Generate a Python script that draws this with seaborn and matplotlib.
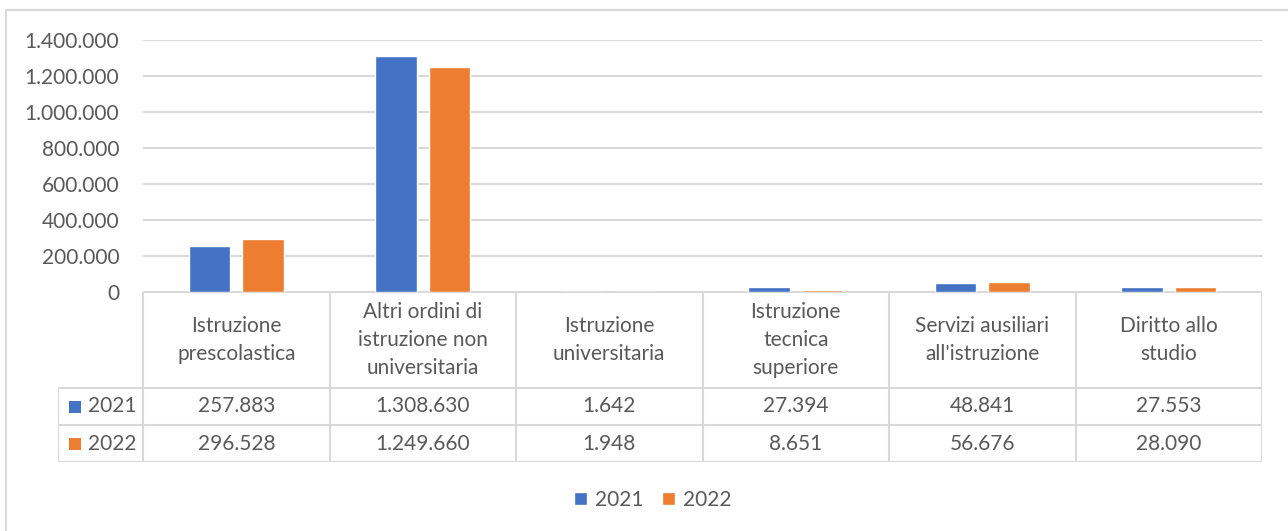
import numpy as np
import pandas as pd
import matplotlib
matplotlib.use('Agg')
import matplotlib.pyplot as plt
from matplotlib.patches import Rectangle
import seaborn as sns

# data
categories = ['Istruzione\nprescolastica', 'Altri ordini di\nistruzione non\nuniversitaria',
              'Istruzione\nuniversitaria', 'Istruzione\ntecnica\nsuperiore',
              "Servizi ausiliari\nall'istruzione", 'Diritto allo\nstudio']
years = ['2021', '2022']
values_2021 = [257883, 1308630, 1642, 27394, 48841, 27553]
values_2022 = [296528, 1249660, 1948, 8651, 56676, 28090]
y_ticks = [0, 200000, 400000, 600000, 800000, 1000000, 1200000, 1400000]

colors = ['#4472C4', '#ED7D31']
grid_col = '#D9D9D9'
text_col = '#595959'


def fmt(v):
    return f'{v:,}'.replace(',', '.')


df = pd.DataFrame({
    'category': categories * 2,
    'year': [years[0]] * len(categories) + [years[1]] * len(categories),
    'value': values_2021 + values_2022,
})

sns.set_style('white')
plt.rcParams['font.family'] = ['Lato', 'DejaVu Sans']
fs = 15

W, H = 1288, 531
fig = plt.figure(figsize=(W / 100, H / 100), dpi=100)

# outer chart border
fig.add_artist(Rectangle((6 / W, -0.1), 1.2, 1 - 10 / H + 0.1, transform=fig.transFigure,
                         fill=False, edgecolor=grid_col, lw=1.5))

px_l, px_r, px_top, px_base = 143, 1262, 40, 292
ax = fig.add_axes([px_l / W, 1 - px_base / H, (px_r - px_l) / W, (px_base - px_top) / H])
sns.barplot(data=df, x='category', y='value', hue='year', palette=colors,
            width=0.57, gap=0.22, ax=ax, saturation=1)
ax.set_xlim(-0.5, len(categories) - 0.5)
ax.set_ylim(0, 1400000)
ax.set_yticks(y_ticks)
ax.set_yticklabels([fmt(t) for t in y_ticks], color=text_col, fontsize=fs)
ax.tick_params(axis='y', length=0, pad=17)
ax.set_xticks([])
ax.set_xlabel('')
ax.set_ylabel('')
ax.grid(axis='y', color=grid_col, lw=1.5)
ax.set_axisbelow(True)
for s in ax.spines.values():
    s.set_visible(False)
handles, labels = ax.get_legend_handles_labels()
ax.get_legend().remove()

# data table below the axis
unit = (px_r - px_l) / len(categories)
px_tl = 58
x0 = -0.5 - (px_l - px_tl) / unit
hdr_h, row_h = 96, 37
tot_h = hdr_h + 2 * row_h
tax = fig.add_axes([px_tl / W, 1 - (px_base + tot_h) / H, (px_r - px_tl) / W, tot_h / H])
tax.set_xlim(x0, len(categories) - 0.5)
tax.set_ylim(0, tot_h)
tax.axis('off')
lk = dict(color=grid_col, lw=1.5, solid_capstyle='projecting')
tax.plot([-0.5, len(categories) - 0.5], [tot_h, tot_h], **lk)
for yy in [0, row_h, 2 * row_h]:
    tax.plot([x0, len(categories) - 0.5], [yy, yy], **lk)
for i in range(len(categories) + 1):
    tax.plot([i - 0.5, i - 0.5], [0, tot_h], **lk)
tax.plot([x0, x0], [0, 2 * row_h], **lk)

for i, c in enumerate(categories):
    tax.text(i, 2 * row_h + hdr_h / 2, c, ha='center', va='center', color=text_col,
             fontsize=fs, linespacing=1.52)
rows = [values_2021, values_2022]
for r, (yr, vals) in enumerate(zip(years, rows)):
    yc = tot_h - hdr_h - row_h * (r + 0.5)
    for i, v in enumerate(vals):
        tax.text(i, yc, fmt(v), ha='center', va='center', color=text_col, fontsize=fs)
    sq = 12 / unit
    tax.add_patch(Rectangle((x0 + 11 / unit, yc - 6), sq, 12, color=colors[r], lw=0))
    tax.text(x0 + 30 / unit, yc, yr, ha='left', va='center', color=text_col, fontsize=fs)

fig.legend(handles, labels, loc='center', bbox_to_anchor=(653 / W, 1 - 500 / H), ncol=2,
           frameon=False, fontsize=fs, labelcolor=text_col, handlelength=0.6,
           handleheight=0.6, handletextpad=0.4, columnspacing=0.9)

fig.savefig('out.png', dpi=100, facecolor='white')
